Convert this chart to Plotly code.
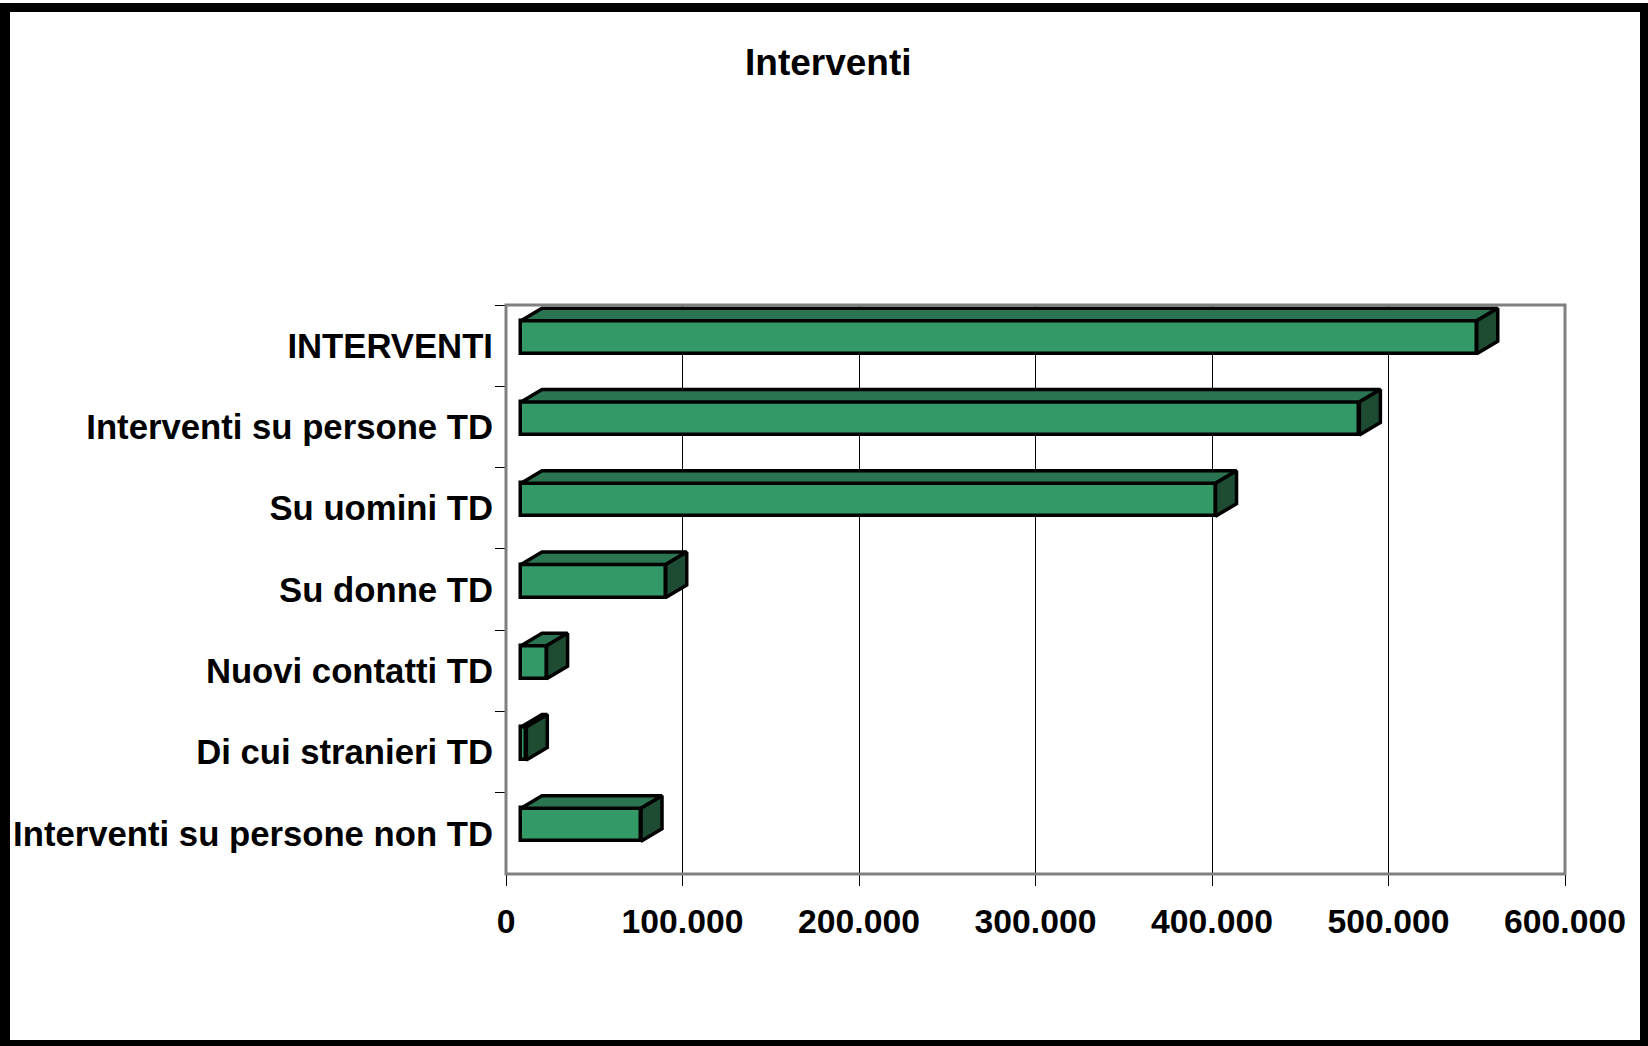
import plotly.graph_objects as go

# ---------------- data ----------------
categories = [
    "INTERVENTI",
    "Interventi su persone TD",
    "Su uomini TD",
    "Su donne TD",
    "Nuovi contatti TD",
    "Di cui stranieri TD",
    "Interventi su persone non TD",
]
values = [541500, 475000, 393500, 82000, 14500, 3000, 68000]
x_tick_values = [0, 100000, 200000, 300000, 400000, 500000, 600000]
x_tick_labels = ["0", "100.000", "200.000", "300.000", "400.000", "500.000", "600.000"]
title_text = "Interventi"

# ---------------- layout geometry ----------------
W_FIG, H_FIG = 1648, 1046
L, R, T, B = 506, 83, 305, 172
plot_w = W_FIG - L - R
plot_h = H_FIG - T - B
X_MAX = 600000
n = len(categories)
ux = X_MAX / plot_w          # data units per pixel (x)
uy = n / plot_h              # category units per pixel (y)

front_dx = 15 * ux           # front face shifted right of wall
lift = 8.5 * uy              # front face lifted above category centre
depth_dx = 21 * ux           # 3D depth, horizontal
depth_dy = 12.5 * uy         # 3D depth, vertical
bar_h = 33 * uy              # bar thickness

FRONT = "#339966"
TOP = "#2A7451"
SIDE = "#1E4C33"
EDGE = "black"
EDGE_W = 3.5
FONT = "Liberation Sans, Arial, sans-serif"

fig = go.Figure()

# invisible helper trace to register the category axis
fig.add_trace(go.Scatter(x=values, y=categories, mode="markers",
                         marker=dict(opacity=0), hoverinfo="skip",
                         showlegend=False, xaxis="x", yaxis="y"))

idx = list(range(n))
# front faces
fig.add_trace(go.Bar(x=values, y=idx, orientation="h", width=bar_h,
                     marker=dict(color=FRONT, line=dict(color=EDGE, width=EDGE_W)),
                     showlegend=False, xaxis="x2", yaxis="y2",
                     hovertext=categories, hoverinfo="text+x"))

# top and side faces
for i, v in enumerate(values):
    yt = i - bar_h / 2
    yb = i + bar_h / 2
    fig.add_trace(go.Scatter(
        x=[0, v, v + depth_dx, depth_dx, 0],
        y=[yt, yt, yt - depth_dy, yt - depth_dy, yt],
        mode="lines", fill="toself", fillcolor=TOP,
        line=dict(color=EDGE, width=EDGE_W), showlegend=False, hoverinfo="skip",
        xaxis="x2", yaxis="y2"))
    fig.add_trace(go.Scatter(
        x=[v, v + depth_dx, v + depth_dx, v, v],
        y=[yt, yt - depth_dy, yb - depth_dy, yb, yt],
        mode="lines", fill="toself", fillcolor=SIDE,
        line=dict(color=EDGE, width=EDGE_W), showlegend=False, hoverinfo="skip",
        xaxis="x2", yaxis="y2"))


def xp(px):
    return (px - L) / plot_w


def yp(py):
    return (T + plot_h - py) / plot_h


shapes = [
    # plot frame (back wall)
    dict(type="rect", xref="paper", yref="paper", x0=0, x1=1, y0=0, y1=1,
         line=dict(color="#808080", width=3), layer="above"),
    # outer black border
    dict(type="rect", xref="paper", yref="paper", x0=xp(0), x1=xp(10),
         y0=yp(3), y1=yp(1046), fillcolor="black", line=dict(width=0)),
    dict(type="rect", xref="paper", yref="paper", x0=xp(0), x1=xp(1648),
         y0=yp(3), y1=yp(12), fillcolor="black", line=dict(width=0)),
    dict(type="rect", xref="paper", yref="paper", x0=xp(1640), x1=xp(1648),
         y0=yp(3), y1=yp(1046), fillcolor="black", line=dict(width=0)),
    dict(type="rect", xref="paper", yref="paper", x0=xp(0), x1=xp(1648),
         y0=yp(1040), y1=yp(1046), fillcolor="black", line=dict(width=0)),
]

fig.update_layout(
    width=W_FIG, height=H_FIG,
    margin=dict(l=L, r=R, t=T, b=B, pad=0),
    paper_bgcolor="white", plot_bgcolor="white",
    separators=",.",
    showlegend=False,
    bargap=0,
    shapes=shapes,
    annotations=[dict(text=title_text, xref="paper", yref="paper",
                      x=xp(828), y=yp(62), xanchor="center", yanchor="middle",
                      showarrow=False,
                      font=dict(family=FONT, size=37, color="black", weight="bold"))],
    xaxis=dict(range=[0, X_MAX], tickvals=x_tick_values, ticktext=x_tick_labels,
               showgrid=True, gridcolor="black", gridwidth=1, zeroline=False,
               ticks="outside", ticklen=11, tickcolor="black", tickwidth=1,
               ticklabelstandoff=7,
               tickfont=dict(family=FONT, size=33.7, color="black", weight="bold"),
               showline=False, fixedrange=True),
    yaxis=dict(type="category", categoryorder="array", categoryarray=categories,
               range=[n - 0.5, -0.5], tickson="boundaries",
               ticks="outside", ticklen=10, tickcolor="black", tickwidth=1,
               ticklabelstandoff=12,
               tickfont=dict(family=FONT, size=34.7, color="black", weight="bold"),
               showgrid=False, zeroline=False, showline=False, fixedrange=True),
    xaxis2=dict(overlaying="x", anchor="y2", range=[-front_dx, X_MAX - front_dx],
                visible=False, fixedrange=True),
    yaxis2=dict(overlaying="y", anchor="x2", range=[n - 0.5 + lift, -0.5 + lift],
                visible=False, fixedrange=True),
)

fig.write_html("out.html",
               config={"displayModeBar": False},
               post_script="document.body.style.margin='0';"
                           "document.body.style.overflow='hidden';")
